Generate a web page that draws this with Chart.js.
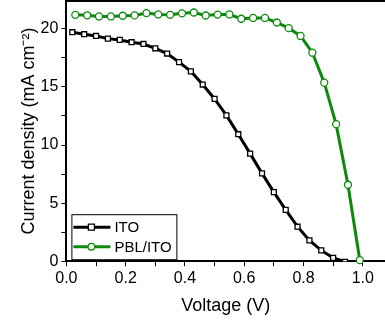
<!DOCTYPE html>
<html>
<head>
<meta charset="utf-8">
<script src="https://cdn.jsdelivr.net/npm/chart.js@4.4.1/dist/chart.umd.min.js"></script>
<style>
  html, body { margin: 0; padding: 0; background: #fff; }
  #wrap { width: 385px; height: 322px; position: relative; }
</style>
</head>
<body>
<div id="wrap"><canvas id="chart-jv"></canvas></div>
<script>
// J-V data
const itoVoltage = [0.02, 0.06, 0.10, 0.14, 0.18, 0.22, 0.26, 0.30, 0.34, 0.38, 0.42, 0.46, 0.50,
                    0.54, 0.58, 0.62, 0.66, 0.70, 0.74, 0.78, 0.82, 0.86, 0.90, 0.94];
const itoCurrent = [19.71, 19.54, 19.39, 19.16, 19.05, 18.85, 18.70, 18.33, 17.88, 17.14, 16.34, 15.21, 13.97,
                    12.55, 10.93, 9.26, 7.56, 5.95, 4.42, 2.97, 1.79, 0.93, 0.29, -0.05];

const pblVoltage = [0.03, 0.07, 0.11, 0.15, 0.19, 0.23, 0.27, 0.31, 0.35, 0.39, 0.43, 0.47, 0.51,
                    0.55, 0.59, 0.63, 0.67, 0.71, 0.75, 0.79, 0.83, 0.87, 0.91, 0.95, 0.99];
const pblCurrent = [21.21, 21.17, 21.07, 21.07, 21.13, 21.16, 21.36, 21.24, 21.21, 21.34, 21.41, 21.15, 21.23,
                    21.24, 20.87, 20.94, 20.94, 20.55, 20.06, 19.39, 17.95, 15.37, 11.80, 6.58, 0.09];

const seriesNames = ['ITO', 'PBL/ITO'];
const xTitle = 'Voltage (V)';
const yTitle = 'Current density (mA cm\u207B\u00B2)';

const FONT = '"Liberation Sans", Arial, sans-serif';

function toPoints(xs, ys) {
    return xs.map((v, i) => ({ x: v, y: ys[i] }));
}

// legend drawn inside the plot, bottom-left, with a frame
const boxLegend = {
    id: 'boxLegend',
    afterDatasetsDraw(chart) {
        const ctx = chart.ctx;
        const area = chart.chartArea;
        const x0 = area.left + 5, y0 = area.bottom - 47, w = 105, h = 45;
        ctx.save();
        ctx.fillStyle = '#fff';
        ctx.fillRect(x0, y0, w, h);
        ctx.strokeStyle = '#000';
        ctx.lineWidth = 1;
        ctx.strokeRect(x0 + 0.5, y0 + 0.5, w, h);
        chart.data.datasets.forEach((ds, i) => {
            const yy = y0 + 13 + i * 19.5;
            ctx.strokeStyle = ds.borderColor;
            ctx.lineWidth = 3;
            ctx.beginPath();
            ctx.moveTo(x0 + 2, yy);
            ctx.lineTo(x0 + 39, yy);
            ctx.stroke();
            ctx.fillStyle = '#fff';
            ctx.strokeStyle = ds.pointBorderColor;
            ctx.lineWidth = ds.pointBorderWidth;
            ctx.beginPath();
            if (ds.pointStyle === 'rect') {
                ctx.rect(x0 + 20 - 3, yy - 3, 6, 6);
            } else {
                ctx.arc(x0 + 20, yy, 3.3, 0, Math.PI * 2);
            }
            ctx.fill();
            ctx.stroke();
            ctx.fillStyle = '#000';
            ctx.font = '15px ' + FONT;
            ctx.textBaseline = 'middle';
            ctx.fillText(ds.label, x0 + 43, yy + 1);
        });
        ctx.restore();
    }
};

// top frame line of the plot
const topFrame = {
    id: 'topFrame',
    afterDraw(chart) {
        const ctx = chart.ctx;
        const area = chart.chartArea;
        ctx.save();
        ctx.strokeStyle = '#000';
        ctx.lineWidth = 2;
        ctx.beginPath();
        ctx.moveTo(area.left - 1, area.top);
        ctx.lineTo(area.right, area.top);
        ctx.stroke();
        ctx.restore();
    }
};

const ctx = document.getElementById('chart-jv').getContext('2d');
new Chart(ctx, {
    type: 'line',
    data: {
        datasets: [
            {
                label: seriesNames[0],
                data: toPoints(itoVoltage, itoCurrent),
                borderColor: '#000',
                borderWidth: 3,
                pointStyle: 'rect',
                pointRadius: 3.5,
                pointBorderWidth: 1.3,
                pointBorderColor: '#000',
                pointBackgroundColor: '#fff',
                tension: 0,
                clip: 0
            },
            {
                label: seriesNames[1],
                data: toPoints(pblVoltage, pblCurrent),
                borderColor: '#0d8a0d',
                borderWidth: 3,
                pointStyle: 'circle',
                pointRadius: 3.5,
                pointBorderWidth: 1.3,
                pointBorderColor: '#0d8a0d',
                pointBackgroundColor: '#fff',
                tension: 0,
                clip: 4
            }
        ]
    },
    options: {
        responsive: true,
        maintainAspectRatio: false,
        animation: false,
        layout: { autoPadding: false, padding: { left: 18, top: 1, right: 0, bottom: 5 } },
        plugins: {
            legend: { display: false },
            tooltip: { enabled: false }
        },
        scales: {
            x: {
                type: 'linear',
                min: 0,
                max: 1.075,
                afterBuildTicks(axis) {
                    axis.ticks = axis.ticks.filter(t => Math.abs(t.value * 10 - Math.round(t.value * 10)) < 1e-6);
                },
                afterFit(axis) {
                    axis.paddingRight = 0;
                },
                ticks: {
                    stepSize: 0.1,
                    includeBounds: false,
                    autoSkip: false,
                    maxRotation: 0,
                    color: '#000',
                    padding: 3,
                    font: { family: FONT, size: 16 },
                    callback: v => (Math.round(v * 10) % 2 === 0 ? v.toFixed(1) : '')
                },
                grid: { drawOnChartArea: false, drawTicks: true, tickLength: 5, color: '#000', lineWidth: 1 },
                border: { display: true, color: '#000', width: 2 },
                title: { display: true, text: xTitle, color: '#000', font: { family: FONT, size: 18 }, padding: { top: 4, bottom: 0 } }
            },
            y: {
                min: 0,
                max: 22.4,
                afterBuildTicks(axis) {
                    axis.ticks = axis.ticks.filter(t => Math.abs(t.value / 2.5 - Math.round(t.value / 2.5)) < 1e-6);
                },
                afterFit(axis) {
                    axis.paddingTop = 0;
                },
                ticks: {
                    stepSize: 2.5,
                    includeBounds: false,
                    autoSkip: false,
                    color: '#000',
                    padding: 3,
                    font: { family: FONT, size: 16 },
                    callback: v => (Math.round(v / 2.5) % 2 === 0 ? String(v) : '')
                },
                grid: { drawOnChartArea: false, drawTicks: true, tickLength: 5, color: '#000', lineWidth: 1 },
                border: { display: true, color: '#000', width: 2 },
                title: { display: true, text: yTitle, color: '#000', font: { family: FONT, size: 18 }, padding: { top: 0, bottom: -2 } }
            }
        }
    },
    plugins: [boxLegend, topFrame]
});
</script>
</body>
</html>
